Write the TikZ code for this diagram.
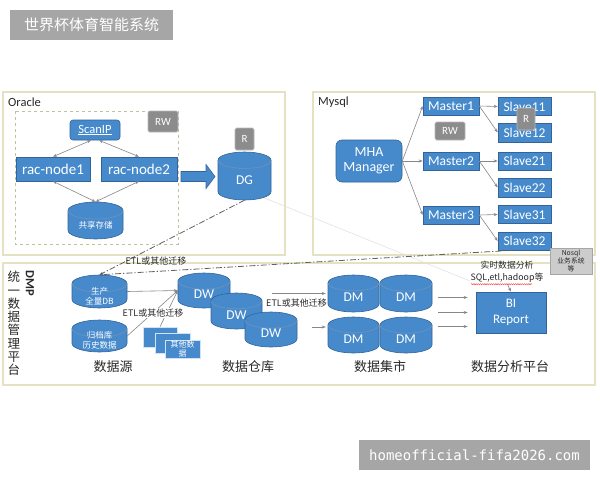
\documentclass[tikz,border=0pt]{standalone}
\usepackage{fontspec}
\setmainfont{Carlito}
\newfontfamily\cjk{Noto Sans CJK SC}
\newfontfamily\wmfont{DejaVu Sans Mono}
\usetikzlibrary{arrows.meta,calc,decorations.pathmorphing}
\definecolor{bblue}{RGB}{70,138,204}
\definecolor{bedge}{RGB}{50,100,155}
\definecolor{panelc}{RGB}{228,226,192}
\definecolor{gbtn}{RGB}{140,140,140}
\definecolor{connc}{RGB}{135,135,135}
\definecolor{titlegray}{RGB}{166,166,166}
\definecolor{labc}{RGB}{40,40,40}
\newcommand\fsz[2]{\fontsize{#1}{#2}\selectfont}
\newcommand\dbcyl[7][]{%
  \pgfmathsetmacro\cylL{#3-#5/2}%
  \pgfmathsetmacro\cylR{#3+#5/2}%
  \pgfmathsetmacro\cylT{#4-#6/2}%
  \pgfmathsetmacro\cylB{#4+#6/2}%
  \pgfmathsetmacro\cylE{#5*0.155}%
  \pgfmathsetmacro\cylRx{#5/2}%
  \filldraw[cylbody] (\cylL,\cylT+\cylE) -- (\cylL,\cylB-\cylE)
     arc[start angle=180,end angle=360,x radius=\cylRx pt,y radius=\cylE pt]
     -- (\cylR,\cylT+\cylE)
     arc[start angle=0,end angle=180,x radius=\cylRx pt,y radius=\cylE pt] -- cycle;
  \draw[cyltop] (\cylL,\cylT+\cylE) arc[start angle=180,end angle=360,x radius=\cylRx pt,y radius=\cylE pt];
  \node[cylframe, minimum width=#5 pt, minimum height=#6 pt] (#2) at (#3,#4) {};
  \node[cyltext,#1] (#2-t) at (#3,#4+\cylE/2) {#7};
}
\begin{document}
\begin{tikzpicture}[x=1pt,y=-1pt,
  cylbody/.style={fill=bblue, draw=bedge, line width=0.6pt},
  cyltop/.style={draw=bedge!70!white, line width=0.6pt},
  cylframe/.style={rectangle, draw=none, inner sep=0pt},
  cyltext/.style={text=white, align=center, inner sep=0pt, font=\fsz{13.5}{15}},
  bluebox/.style={rectangle, fill=bblue, draw=bedge, line width=0.6pt, text=white, inner sep=0pt, align=center, font=\fsz{13.5}{15}},
  gbox/.style={rectangle, rounded corners=1.5pt, fill=gbtn, draw=gray!55, line width=0.6pt, text=white, inner sep=0pt, font=\fsz{11}{12}},
  panel/.style={draw=panelc, line width=1.2pt},
  conn/.style={draw=connc, line width=0.6pt, -{Stealth[length=4pt,width=3pt]}},
  dconn/.style={draw=connc, line width=0.6pt, {Stealth[length=4pt,width=3pt]}-{Stealth[length=4pt,width=3pt]}},
  dashdot/.style={draw=gray!75!black, line width=0.8pt, dash pattern=on 6pt off 2pt on 1.2pt off 2pt},
  faint/.style={draw=gray!22, line width=0.6pt},
  lab/.style={text=labc, inner sep=0.5pt, font=\cjk\fsz{9}{11}},
  sect/.style={text=labc, inner sep=0pt, font=\cjk\fsz{13}{15}},
]
\fill[white] (0,0) rectangle (600,480);
\useasboundingbox (0,0) rectangle (600,480);

% title and watermark
\node[fill=titlegray, minimum width=163pt, minimum height=30pt, inner sep=0pt, text=white, font=\cjk\fsz{15}{17}] (title) at (91.5,25) {世界杯体育智能系统};
\node[fill=titlegray, minimum width=231pt, minimum height=30pt, inner sep=0pt, text=white, font=\wmfont\fsz{14}{16}] (wm) at (474.5,455) {homeofficial-fifa2026.com};

% panels
\draw[panel] (3,92) rectangle (285,255);
\draw[panel] (313,92) rectangle (595,255);
\draw[panel] (3,263) rectangle (595,385);
\node[anchor=west, text=labc, inner sep=0pt, font=\fsz{12.5}{14}] (oralab) at (8,102) {Oracle};
\node[anchor=west, text=labc, inner sep=0pt, font=\fsz{12.5}{14}] (mylab) at (318,102) {Mysql};

% faint line
\draw[faint] (262,197) -- (470,281);

% ---------- Oracle ----------
\draw[draw=panelc!85!black, line width=0.6pt, dashed] (15,111) rectangle (178,244);
\node[gbox, minimum width=30pt, minimum height=21pt] (rw1) at (163,121.5) {RW};
\node[bluebox, rounded corners=3pt, minimum width=50pt, minimum height=20pt, font=\fsz{12.5}{14}] (scan) at (95,130) {\underline{ScanIP}};
\node[bluebox, minimum width=74pt, minimum height=24pt, font=\fsz{15}{16}] (rac1) at (53,169) {rac-node1};
\node[bluebox, minimum width=76pt, minimum height=24pt, font=\fsz{15}{16}] (rac2) at (139,169) {rac-node2};
\dbcyl[font=\cjk\fsz{8.5}{10}]{share}{95.5}{220.5}{55}{37}{共享存储}
\draw[dconn] ([xshift=-4pt]scan.south) -- (rac1.north);
\draw[dconn] ([xshift=4pt]scan.south) -- (rac2.north);
\draw[dconn] (rac1.south) -- (share.north);
\draw[dconn] (rac2.south) -- (share.north);

% big arrow
\filldraw[fill=bblue, draw=bedge, line width=0.6pt] (181,171.5) -- (206,171.5) -- (206,164.5) -- (215,176.5) -- (206,188.5) -- (206,181.5) -- (181,181.5) -- cycle;
\node[gbox, minimum width=19pt, minimum height=22pt] (r1) at (244.5,139) {R};
\dbcyl{dg}{244.5}{176}{53}{48}{DG}

% ---------- Mysql ----------
\node[bluebox, rounded corners=6pt, minimum width=66pt, minimum height=42pt, font=\fsz{14}{15}] (mha) at (369,161) {MHA\\Manager};
\node[bluebox, minimum width=56pt, minimum height=18pt] (m1) at (451,106) {Master1};
\node[bluebox, minimum width=56pt, minimum height=18pt] (m2) at (451,161) {Master2};
\node[bluebox, minimum width=56pt, minimum height=18pt] (m3) at (451,215) {Master3};
\node[bluebox, minimum width=53pt, minimum height=18pt] (s11) at (524.5,106.5) {Slave11};
\node[bluebox, minimum width=53pt, minimum height=19pt] (s12) at (524.5,132.5) {Slave12};
\node[bluebox, minimum width=53pt, minimum height=18pt] (s21) at (524.5,161) {Slave21};
\node[bluebox, minimum width=53pt, minimum height=19pt] (s22) at (524.5,187.5) {Slave22};
\node[bluebox, minimum width=53pt, minimum height=18pt] (s31) at (524.5,214.5) {Slave31};
\node[bluebox, minimum width=53pt, minimum height=18pt] (s32) at (524.5,241) {Slave32};
\node[gbox, minimum width=30pt, minimum height=18pt] (rw2) at (450,131) {RW};
\node[gbox, minimum width=18pt, minimum height=22pt] (r2) at (526,119) {R};
\draw[conn] (mha.east) -- (m1.west);
\draw[conn] (mha.east) -- (m2.west);
\draw[conn] (mha.east) -- (m3.west);
\draw[conn] (m1.east) -- (s11.west);
\draw[conn] (m1.east) -- (s12.west);
\draw[conn] (m2.east) -- (s21.west);
\draw[conn] (m2.east) -- (s22.west);
\draw[conn] (m3.east) -- (s31.west);
\draw[conn] (m3.east) -- (s32.west);

% ---------- DMP ----------
\node[rotate=-90, text=labc, inner sep=0pt, font=\bfseries\fsz{12.5}{14}] (dmp) at (30,283) {DMP};
\node[align=center, text=labc, inner sep=0pt, font=\cjk\fsz{12.5}{13.3}] (dmpcn) at (14,323.5) {统\\一\\数\\据\\管\\理\\平\\台};

\dbcyl[font=\cjk\fsz{8.5}{10}]{prod}{99.5}{291.5}{55}{33}{生产\\全量DB}
\dbcyl[font=\cjk\fsz{8.5}{10}]{arch}{99.5}{336}{55}{32}{归档库\\历史数据}
\node[rectangle, fill=bblue, draw=white!75!bblue, line width=0.6pt, minimum width=34pt, minimum height=20pt, inner sep=0pt] (doc1) at (160,337) {};
\node[rectangle, fill=bblue, draw=white!75!bblue, line width=0.6pt, minimum width=35pt, minimum height=20pt, inner sep=0pt] (doc2) at (172.5,343) {};
\node[rectangle, fill=bblue, draw=white!75!bblue, line width=0.6pt, minimum width=35pt, minimum height=18pt, inner sep=0pt, text=white, align=center, font=\cjk\fsz{8}{9}] (doc3) at (182.5,349) {其他数\\据};

\dbcyl{dw1}{204}{290.5}{52}{35}{DW}
\dbcyl{dw2}{236.5}{311}{51}{36}{DW}
\dbcyl{dw3}{271}{329.5}{52}{35}{DW}

\draw[conn] (prod.east) -- (dw1.west);
\draw[conn] (arch.east) -- (dw1.west);
\draw[conn] (doc1.north) -- (dw1.west);
\node[lab, fill=white] (etl2) at (153,313) {ETL或其他迁移};

\dbcyl{dm1}{353.5}{293.5}{51}{37}{DM}
\dbcyl{dm2}{406}{293.5}{52}{37}{DM}
\dbcyl{dm3}{353.5}{335}{51}{36}{DM}
\dbcyl{dm4}{406}{335}{52}{36}{DM}

\coordinate (dwx1) at ([xshift=10pt]dw2.east);
\coordinate (dwx2) at ([xshift=15pt]dw3.east);
\coordinate (dmin1) at (dm1.west);
\coordinate (dmin2) at ([yshift=8pt]dm3.west);
\draw[conn, shorten >=2pt] (dwx1 |- dmin1) -- (dmin1);
\draw[conn, shorten >=2pt] (dwx2 |- dmin2) -- (dmin2);
\node[lab] (etl3) at (296.5,303) {ETL或其他迁移};

\node[bluebox, minimum width=70pt, minimum height=41pt, font=\fsz{13}{16}] (bi) at (511,312.5) {BI\\Report};
\coordinate (dmx) at ([xshift=6pt]dm2.east);
\coordinate (bi1) at ([yshift=15pt]bi.west);
\coordinate (bi2) at (bi.west);
\coordinate (bi3) at ([yshift=-14pt]bi.west);
\draw[conn, shorten >=8pt] (dmx |- bi1) -- (bi1);
\draw[conn, shorten >=8pt] (dmx |- bi2) -- (bi2);
\draw[conn, shorten >=8pt] (dmx |- bi3) -- (bi3);

\node[lab, align=center, font=\cjk\fsz{8.8}{11.5}] (bilbl) at (507,272) {实时数据分析\\SQL,etl,hadoop等};
\draw[red!80, line width=0.4pt, decorate, decoration={snake, amplitude=0.6pt, segment length=2.2pt}] ([xshift=1pt,yshift=-1pt]bilbl.south west) -- ([xshift=-12pt,yshift=-1pt]bilbl.south east);
\draw[conn, shorten <=1pt] (bilbl.south) -- (bi.north);

\node[rectangle, fill=gray!40, draw=gray!70, line width=0.5pt, minimum width=42pt, minimum height=26pt, inner sep=0pt, align=center, text=labc, font=\cjk\fsz{6.8}{7.6}] (nosql) at (571,261) {Nosql\\业务系统\\等};

% dash-dot migration lines
\draw[dashdot, -{Stealth[length=4pt,width=3pt]}] (dg.south) -- (prod.north);
\draw[dashdot, -{Stealth[length=4pt,width=3pt]}] ([xshift=-12pt]s32.south) -- (prod.north);
\node[lab, anchor=west] (etl1) at (125,261) {ETL或其他迁移};

% section labels
\node[sect] (sec1) at (113,367) {数据源};
\node[sect] (sec2) at (248,367) {数据仓库};
\node[sect] (sec3) at (380,367) {数据集市};
\node[sect] (sec4) at (510,367) {数据分析平台};
\end{tikzpicture}
\end{document}
